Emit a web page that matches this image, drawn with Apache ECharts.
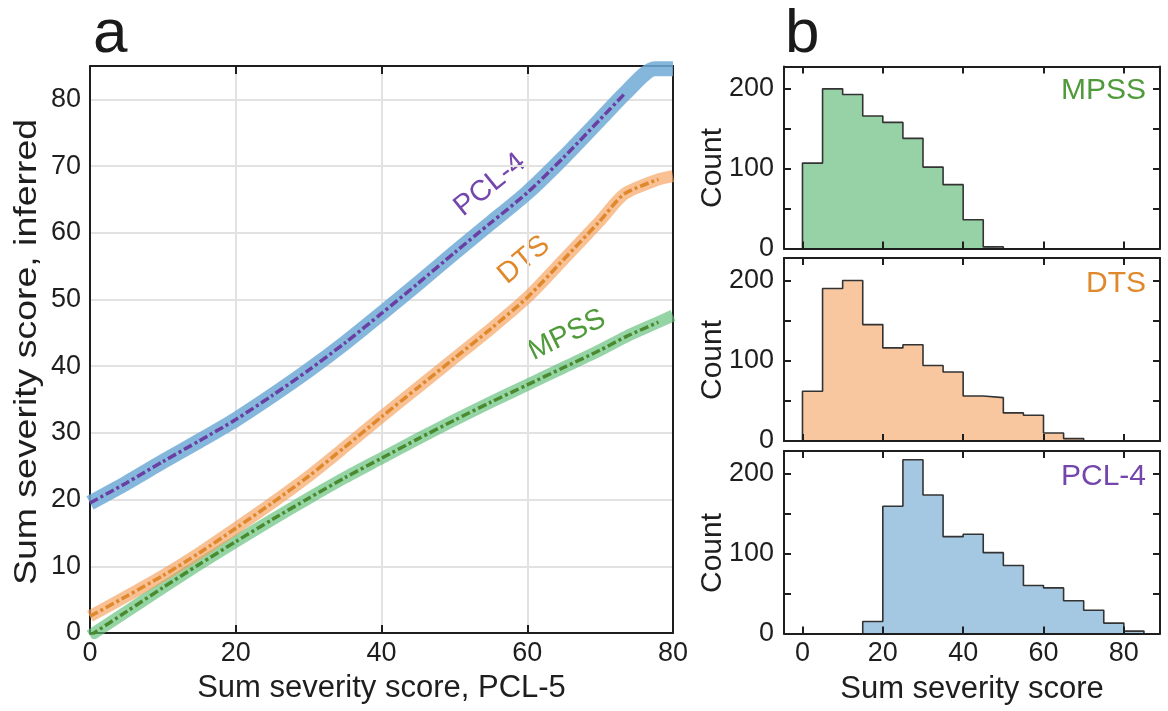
<!DOCTYPE html>
<html>
<head>
<meta charset="utf-8">
<script src="https://cdn.jsdelivr.net/npm/echarts@6/dist/echarts.min.js"></script>
<style>
html,body{margin:0;padding:0;background:#fff;}
#c{width:1168px;height:711px;}
</style>
</head>
<body>
<div id="c"></div>
<script>
// ---------- Panel a: inferred curves ----------
const curveX = [0,5,10,15,20,25,30,35,40,45,50,55,60,65,70];
const pcl4Inferred = [19.5,22.5,25.7,28.8,32.0,35.6,39.4,43.5,47.9,52.4,57.0,61.5,66.0,71.3,77.0];
const dtsInferred  = [2.5,5.5,8.6,12.0,15.7,19.5,23.5,27.9,32.4,36.8,41.2,45.6,50.3,56.0,61.8];
const mpssInferred = [-0.4,3.2,6.8,10.3,13.7,17.0,20.2,23.3,26.2,29.1,31.9,34.6,37.2,39.8,42.4];
// last dotted points and the band tails
const pcl4TailX = [73.5], pcl4Tail = [81.0];
const pcl4BandTailX = [77.5, 80], pcl4BandTail = [84.6, 84.6];
const dtsTailX = [73.3, 78], dtsTail = [65.8, 68.0];
const dtsBandTailX = [80], dtsBandTail = [68.5];
const mpssTailX = [73.5, 78], mpssTail = [44.4, 46.6];
const mpssBandTailX = [80], mpssBandTail = [47.6];

// ---------- Panel b: histograms ----------
const binEdges = [0,5,10,15,20,25,30,35,40,45,50,55,60,65,70,75,80,85];
const mpssCounts = [107,200,193,166,158,138,102,80,36,2];
const dtsCounts  = [62,190,200,145,116,120,94,86,56,54,35,32,10,3];
const pcl4Counts = [0,0,0,15,159,217,173,121,124,101,85,60,57,41,29,13,3];
const xTicksB = [0,20,40,60,80];
const yTicksB = [0,50,100,150,200];
const yLabelsB = [0,100,200];

const FONT = "'Liberation Sans', Arial, Helvetica, sans-serif";
const INK = '#1e1e1e';

function zip(xs, ys){ return xs.map((x,i)=>[x, ys[i]]); }
function stepData(counts){
  let first = 0;
  while (first < counts.length && counts[first] === 0) first++;
  const d = [[binEdges[first],0]];
  for (let i = first; i < counts.length; i++) d.push([binEdges[i], counts[i]]);
  d.push([binEdges[counts.length], 0]);
  return d;
}

const xAxes = [], yAxes = [], grids = [], series = [];

// panel a grid
grids.push({left:90, top:66, width:583, height:567, show:false});
xAxes.push({
  gridIndex:0, type:'value', min:0, max:80, interval:20, position:'bottom',
  axisLine:{show:true, onZero:false, lineStyle:{color:INK, width:2}},
  axisTick:{show:true, inside:true, length:8, lineStyle:{color:INK, width:2}},
  axisLabel:{color:INK, fontSize:27, fontFamily:FONT, margin:7},
  splitLine:{show:true, lineStyle:{color:'#e2e2e2', width:2}},
  name:'Sum severity score, PCL-5', nameLocation:'middle', nameGap:40,
  nameTextStyle:{color:INK, fontSize:31, fontFamily:FONT}
});
xAxes.push({
  gridIndex:0, type:'value', min:0, max:80, interval:20, position:'top',
  axisLine:{show:true, onZero:false, lineStyle:{color:INK, width:2}},
  axisTick:{show:true, inside:true, length:8, lineStyle:{color:INK, width:2}},
  axisLabel:{show:false}, splitLine:{show:false}
});
yAxes.push({
  gridIndex:0, type:'value', min:0, max:85, interval:10, position:'left',
  axisLine:{show:true, onZero:false, lineStyle:{color:INK, width:2}},
  axisTick:{show:false},
  axisLabel:{color:INK, fontSize:27, fontFamily:FONT, margin:9,
    formatter:v=> (v%10===0 ? String(v) : '')},
  splitLine:{show:true, lineStyle:{color:'#e2e2e2', width:2}}
});
yAxes.push({
  gridIndex:0, type:'value', min:0, max:85, position:'right',
  axisLine:{show:true, onZero:false, lineStyle:{color:INK, width:2}},
  axisTick:{show:false}, axisLabel:{show:false}, splitLine:{show:false}
});

// panel a series
const bands = [
  {name:'MPSS band', x:curveX.concat(mpssTailX, mpssBandTailX), y:mpssInferred.concat(mpssTail, mpssBandTail), color:'rgba(94,189,118,0.66)', w:12},
  {name:'DTS band', x:curveX.concat(dtsTailX, dtsBandTailX), y:dtsInferred.concat(dtsTail, dtsBandTail), color:'rgba(245,159,91,0.66)', w:12},
  {name:'PCL-4 band', x:curveX.concat(pcl4TailX, pcl4BandTailX), y:pcl4Inferred.concat(pcl4Tail, pcl4BandTail), color:'rgba(112,170,214,0.85)', w:15}
];
bands.forEach(b=>series.push({
  name:b.name, type:'line', xAxisIndex:0, yAxisIndex:0, data:zip(b.x,b.y),
  smooth:0.25, showSymbol:false, symbol:'none', clip:true, z:2,
  lineStyle:{color:b.color, width:b.w, cap:'butt', join:'round'}
}));
const thins = [
  {name:'MPSS', x:curveX.concat(mpssTailX), y:mpssInferred.concat(mpssTail), color:'#4a8a2e'},
  {name:'DTS', x:curveX.concat(dtsTailX), y:dtsInferred.concat(dtsTail), color:'#e0882c'},
  {name:'PCL-4', x:curveX.concat(pcl4TailX), y:pcl4Inferred.concat(pcl4Tail), color:'#6a3ea2'}
];
thins.forEach(t=>series.push({
  name:t.name, type:'line', xAxisIndex:0, yAxisIndex:0, data:zip(t.x,t.y),
  smooth:0.25, showSymbol:false, symbol:'none', clip:true, z:3,
  lineStyle:{color:t.color, width:3.5, type:[9,3,3,3], cap:'butt'}
}));

// panel b grids
const histTops = [66.5, 258, 451];
const histH = [182, 183, 182.5];
const hists = [
  {counts:mpssCounts, fill:'#97d2a6'},
  {counts:dtsCounts, fill:'#f9c79f'},
  {counts:pcl4Counts, fill:'#a5c8e2'}
];
hists.forEach((h,k)=>{
  const gi = k+1;
  grids.push({left:784, top:histTops[k], width:376, height:histH[k], show:false});
  const last = (k===2);
  xAxes.push({
    gridIndex:gi, type:'value', min:-4.6, max:89, position:'bottom', z:10,
    axisLine:{show:true, onZero:false, lineStyle:{color:INK, width:2}},
    axisTick:{show:true, inside:true, length:7, customValues:xTicksB, lineStyle:{color:INK, width:2}},
    axisLabel:{show:last, customValues:xTicksB, color:INK, fontSize:27, fontFamily:FONT, margin:7},
    splitLine:{show:false},
    name: last ? 'Sum severity score' : '', nameLocation:'middle', nameGap:40,
    nameTextStyle:{color:INK, fontSize:31, fontFamily:FONT}
  });
  xAxes.push({
    gridIndex:gi, type:'value', min:-4.6, max:89, position:'top', z:10,
    axisLine:{show:true, onZero:false, lineStyle:{color:INK, width:2}},
    axisTick:{show:true, inside:true, length:7, customValues:xTicksB, lineStyle:{color:INK, width:2}},
    axisLabel:{show:false}, splitLine:{show:false}
  });
  yAxes.push({
    gridIndex:gi, type:'value', min:0, max:228, position:'left', z:10,
    axisLine:{show:true, onZero:false, lineStyle:{color:INK, width:2}},
    axisTick:{show:true, inside:true, length:7, customValues:yTicksB, lineStyle:{color:INK, width:2}},
    axisLabel:{customValues:yLabelsB, color:INK, fontSize:27, fontFamily:FONT, margin:10},
    splitLine:{show:false}
  });
  yAxes.push({
    gridIndex:gi, type:'value', min:0, max:228, position:'right', z:10,
    axisLine:{show:true, onZero:false, lineStyle:{color:INK, width:2}},
    axisTick:{show:true, inside:true, length:7, customValues:yTicksB, lineStyle:{color:INK, width:2}},
    axisLabel:{show:false}, splitLine:{show:false}
  });
  series.push({
    type:'line', step:'end', xAxisIndex:2+2*k, yAxisIndex:2+2*k,
    data:stepData(h.counts), showSymbol:false, symbol:'none', z:2,
    lineStyle:{color:'#333333', width:1.6},
    areaStyle:{color:h.fill, opacity:1}
  });
});

const rot90 = Math.PI/2;
const graphic = [
  {type:'text', left:93, top:4, style:{text:'a', font:'62px ' + FONT, fill:'#1a1a1a'}},
  {type:'text', left:785, top:4, style:{text:'b', font:'62px ' + FONT, fill:'#1a1a1a'}},
  {type:'text', x:27, y:352, rotation:rot90, scaleX:1.17, style:{text:'Sum severity score, inferred', font:'32px ' + FONT, fill:INK, align:'center', verticalAlign:'middle'}},
  {type:'text', x:713, y:168, rotation:rot90, style:{text:'Count', font:'30px ' + FONT, fill:INK, align:'center', verticalAlign:'middle'}},
  {type:'text', x:713, y:360, rotation:rot90, style:{text:'Count', font:'30px ' + FONT, fill:INK, align:'center', verticalAlign:'middle'}},
  {type:'text', x:713, y:553, rotation:rot90, style:{text:'Count', font:'30px ' + FONT, fill:INK, align:'center', verticalAlign:'middle'}},
  {type:'text', x:490, y:185, rotation:39*Math.PI/180, style:{text:'PCL-4', font:'29px ' + FONT, fill:'#7446ac', align:'center', verticalAlign:'middle'}},
  {type:'text', x:524, y:260, rotation:40*Math.PI/180, style:{text:'DTS', font:'29px ' + FONT, fill:'#e0882c', align:'center', verticalAlign:'middle'}},
  {type:'text', x:567, y:335, rotation:26*Math.PI/180, style:{text:'MPSS', font:'29px ' + FONT, fill:'#4f9a3a', align:'center', verticalAlign:'middle'}},
  {type:'text', x:1146, y:91, style:{text:'MPSS', font:'30px ' + FONT, fill:'#4f9a3a', align:'right', verticalAlign:'middle'}},
  {type:'text', x:1146, y:284, style:{text:'DTS', font:'30px ' + FONT, fill:'#e0882c', align:'right', verticalAlign:'middle'}},
  {type:'text', x:1146, y:477, style:{text:'PCL-4', font:'30px ' + FONT, fill:'#7446ac', align:'right', verticalAlign:'middle'}}
];

const chart = echarts.init(document.getElementById('c'), null, {renderer:'canvas'});
chart.setOption({
  animation:false,
  backgroundColor:'#ffffff',
  textStyle:{fontFamily:FONT},
  grid:grids, xAxis:xAxes, yAxis:yAxes, series:series, graphic:graphic
});
</script>
</body>
</html>
